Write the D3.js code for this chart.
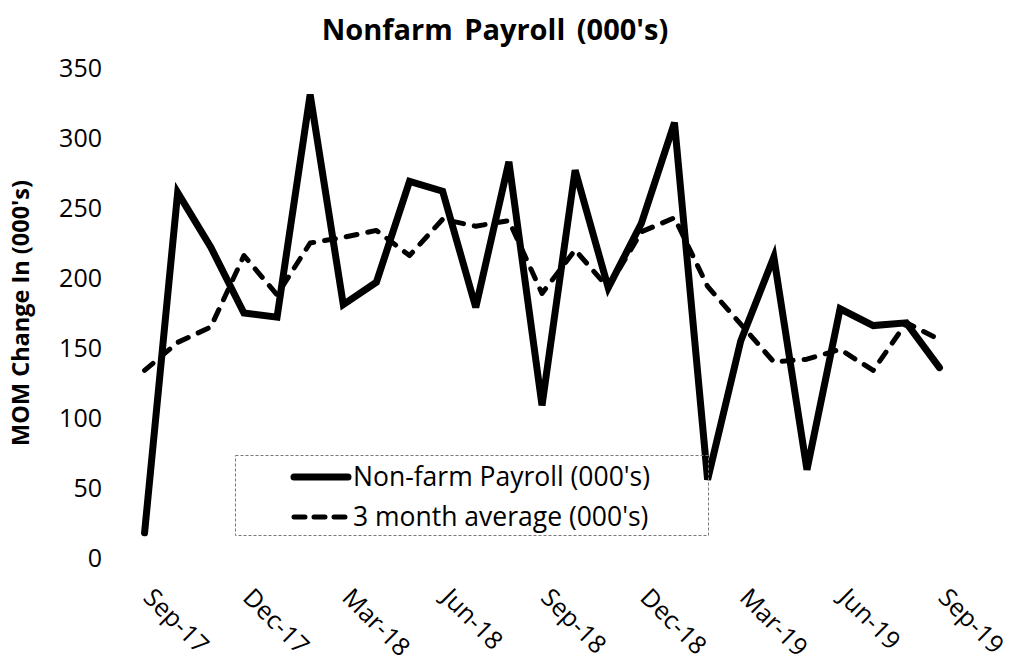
<!DOCTYPE html>
<html>
<head>
<meta charset="utf-8">
<script src="https://cdn.jsdelivr.net/npm/d3@7"></script>
<style>
body { margin: 0; background: #fff; }
text { font-family: "Open Sans", sans-serif; fill: #000; }
</style>
</head>
<body>
<svg id="chart" width="1011" height="662"></svg>
<script>
var months = ["Sep-17","Oct-17","Nov-17","Dec-17","Jan-18","Feb-18","Mar-18","Apr-18","May-18",
	"Jun-18","Jul-18","Aug-18","Sep-18","Oct-18","Nov-18","Dec-18","Jan-19","Feb-19","Mar-19",
	"Apr-19","May-19","Jun-19","Jul-19","Aug-19","Sep-19"];
var payroll = [18, 261, 222, 175, 172, 331, 181, 197, 269, 262, 179, 283, 109,
	277, 193, 239, 311, 56, 155, 215, 63, 178, 166, 168, 136];
var avg3 = [134, 154, 165, 216, 188, 225, 229, 234, 216, 242, 237, 241, 189,
	220, 193, 233, 243, 194, 167, 140, 142, 149, 134, 168, 156];
var yTicks = [0, 50, 100, 150, 200, 250, 300, 350];
var seriesNames = ["Non-farm Payroll (000's)", "3 month average (000's)"];

var svg = d3.select("#chart");

var margin = {top: 68, right: 55, bottom: 104, left: 128},
	width = 1011 - margin.left - margin.right,
	height = 662 - margin.top - margin.bottom;

var x = d3.scalePoint()
	.domain(months)
	.range([margin.left, margin.left + width])
	.padding(0.5);

var y = d3.scaleLinear()
	.domain([0, 350])
	.range([margin.top + height, margin.top]);

// title
svg.append("text")
	.attr("x", 495)
	.attr("y", 40)
	.attr("text-anchor", "middle")
	.style("font-size", "29px")
	.style("font-weight", "bold")
	.style("word-spacing", "4px")
	.text("Nonfarm Payroll (000's)");

// y axis title
svg.append("text")
	.attr("transform", "translate(29,313) rotate(-90)")
	.attr("text-anchor", "middle")
	.style("font-size", "23.5px")
	.style("font-weight", "bold")
	.text("MOM Change In (000's)");

// y axis
var yAxis = svg.append("g")
	.attr("transform", "translate(102,0)")
	.call(d3.axisLeft(y).tickValues(yTicks).tickSize(0).tickPadding(0));
yAxis.select(".domain").remove();
yAxis.selectAll("text")
	.style("font-family", "'Open Sans', sans-serif")
	.style("font-size", "25px")
	.attr("fill", "#000");

// x axis, label every 3rd month
var xAxis = svg.append("g")
	.attr("transform", "translate(0," + (margin.top + height) + ")")
	.call(d3.axisBottom(x).tickValues(months.filter(function(d, i) { return i % 3 == 0; })).tickSize(0));
xAxis.select(".domain").remove();
xAxis.selectAll("text")
	.attr("x", 0)
	.attr("y", 0)
	.attr("dy", 0)
	.attr("text-anchor", "start")
	.attr("transform", "translate(-3,41) rotate(45)")
	.style("font-family", "'Open Sans', sans-serif")
	.style("font-size", "25px")
	.attr("fill", "#000");

var line = d3.line()
	.x(function(d, i) { return x(months[i]); })
	.y(function(d) { return y(d); });

svg.append("path")
	.datum(avg3)
	.attr("d", line)
	.attr("fill", "none")
	.attr("stroke", "#000")
	.attr("stroke-width", 5)
	.attr("stroke-linecap", "round")
	.attr("stroke-linejoin", "round")
	.attr("stroke-dasharray", "11,11");

svg.append("path")
	.datum(payroll)
	.attr("d", line)
	.attr("fill", "none")
	.attr("stroke", "#000")
	.attr("stroke-width", 7)
	.attr("stroke-linecap", "round")
	.attr("stroke-linejoin", "miter");

// legend
var legend = svg.append("g");
legend.append("rect")
	.attr("x", 235.5)
	.attr("y", 455.5)
	.attr("width", 473)
	.attr("height", 80)
	.attr("fill", "none")
	.attr("stroke", "#777")
	.attr("stroke-width", 1)
	.attr("stroke-dasharray", "3,2");

var legendRows = [
	{name: seriesNames[0], y: 477, width: 7, dash: null},
	{name: seriesNames[1], y: 517, width: 5, dash: "11,9"}
];
legendRows.forEach(function(r) {
	legend.append("line")
		.attr("x1", 294).attr("x2", 348)
		.attr("y1", r.y).attr("y2", r.y)
		.attr("stroke", "#000")
		.attr("stroke-width", r.width)
		.attr("stroke-linecap", "round")
		.attr("stroke-dasharray", r.dash);
	legend.append("text")
		.attr("x", 353)
		.attr("y", r.y + 9)
		.style("font-size", "26.5px")
		.text(r.name);
});
</script>
</body>
</html>
